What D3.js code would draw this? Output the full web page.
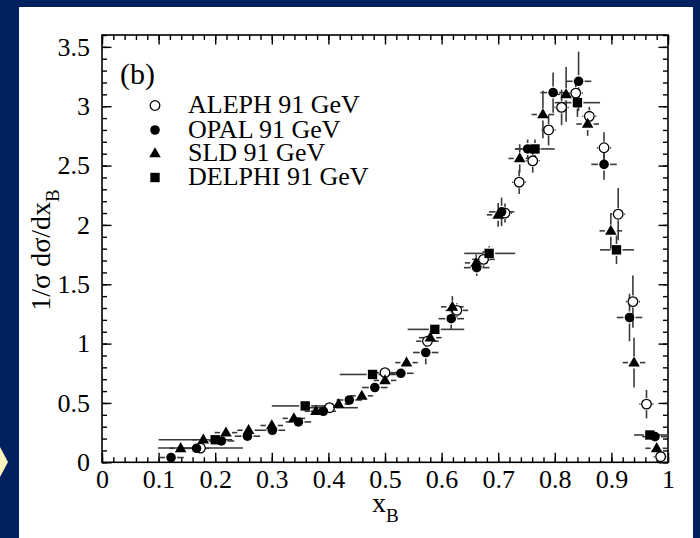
<!DOCTYPE html>
<html>
<head>
<meta charset="utf-8">
<title>x_B distribution</title>
<script src="https://d3js.org/d3.v7.min.js"></script>
<style>
  body { margin: 0; background: #002060; }
  svg { display: block; }
  text { font-family: "Liberation Serif", "Times New Roman", serif; fill: #000; }
</style>
</head>
<body>
<div id="chart"></div>
<script>
// ---- values ----
var xTicks = [0, 0.1, 0.2, 0.3, 0.4, 0.5, 0.6, 0.7, 0.8, 0.9, 1];
var xTickLabels = ["0", "0.1", "0.2", "0.3", "0.4", "0.5", "0.6", "0.7", "0.8", "0.9", "1"];
var yTicks = [0, 0.5, 1, 1.5, 2, 2.5, 3, 3.5];
var yTickLabels = ["0", "0.5", "1", "1.5", "2", "2.5", "3", "3.5"];

var seriesNames = ["ALEPH 91 GeV", "OPAL 91 GeV", "SLD 91 GeV", "DELPHI 91 GeV"];

// ALEPH (open circles)
var alephX  = [0.174, 0.402, 0.500, 0.575, 0.627, 0.674, 0.712, 0.737, 0.761, 0.789, 0.812, 0.837, 0.861, 0.887, 0.912, 0.938, 0.962, 0.987];
var alephY  = [0.12, 0.46, 0.755, 1.02, 1.28, 1.71, 2.10, 2.36, 2.54, 2.80, 2.99, 3.11, 2.915, 2.65, 2.09, 1.354, 0.49, 0.047];
var alephXe = [0.075, 0.05, 0.025, 0.02, 0.02, 0.02, 0.0125, 0.0125, 0.0125, 0.0125, 0.0125, 0.0125, 0.0125, 0.0125, 0.0125, 0.0125, 0.0125, 0.0125];
var alephYe = [0.03, 0.03, 0.04, 0.05, 0.06, 0.07, 0.08, 0.1, 0.1, 0.13, 0.15, 0.12, 0.08, 0.13, 0.22, 0.22, 0.12, 0.03];

// OPAL (filled circles)
var opalX  = [0.122, 0.167, 0.211, 0.257, 0.301, 0.347, 0.391, 0.437, 0.482, 0.528, 0.572, 0.617, 0.662, 0.706, 0.752, 0.797, 0.842, 0.887, 0.932, 0.977];
var opalY  = [0.04, 0.118, 0.18, 0.22, 0.27, 0.34, 0.43, 0.525, 0.63, 0.75, 0.925, 1.21, 1.64, 2.11, 2.64, 3.115, 3.21, 2.51, 1.22, 0.216];
var opalYe = [0.02, 0.02, 0.02, 0.02, 0.03, 0.03, 0.03, 0.03, 0.04, 0.05, 0.1, 0.09, 0.07, 0.12, 0.08, 0.17, 0.25, 0.13, 0.2, 0.05];
var opalXe = 0.0225;

// SLD (filled triangles)
var sldX  = [0.139, 0.179, 0.219, 0.259, 0.300, 0.339, 0.378, 0.418, 0.459, 0.500, 0.538, 0.580, 0.619, 0.661, 0.700, 0.738, 0.779, 0.820, 0.858, 0.899, 0.940, 0.980];
var sldY  = [0.118, 0.19, 0.25, 0.27, 0.31, 0.37, 0.43, 0.49, 0.56, 0.69, 0.84, 1.05, 1.31, 1.68, 2.085, 2.56, 2.93, 3.10, 2.85, 1.95, 0.84, 0.118];
var sldYe = [0.02, 0.02, 0.03, 0.03, 0.03, 0.03, 0.03, 0.03, 0.04, 0.04, 0.05, 0.06, 0.09, 0.07, 0.1, 0.12, 0.2, 0.23, 0.1, 0.15, 0.21, 0.05];
var sldXe = 0.02;

// DELPHI (filled squares), wide bins
var delphiX   = [0.200, 0.359, 0.478, 0.588, 0.684, 0.765, 0.840, 0.909, 0.968];
var delphiY   = [0.19, 0.475, 0.74, 1.12, 1.76, 2.64, 3.03, 1.79, 0.23];
var delphiXlo = [0.10, 0.30, 0.42, 0.54, 0.64, 0.73, 0.80, 0.88, 0.94];
var delphiXhi = [0.23, 0.40, 0.52, 0.64, 0.73, 0.80, 0.88, 0.94, 1.00];
var delphiYe  = [0.02, 0.03, 0.04, 0.05, 0.06, 0.08, 0.12, 0.12, 0.04];

// ---- page ----
var W = 700, H = 538;
var svg = d3.select("#chart").append("svg").attr("width", W).attr("height", H);

// slide background and white panel
svg.append("rect").attr("width", W).attr("height", H).attr("fill", "#002060");
svg.append("rect").attr("x", 19).attr("y", 7).attr("width", 674).attr("height", H - 7).attr("fill", "#fff");
svg.append("polygon").attr("points", "0,447 8,462 0,477").attr("fill", "#fdf3bd");

var x = d3.scaleLinear().domain([0, 1]).range([102, 668]);
var y = d3.scaleLinear().domain([0, 3.6]).range([462.3, 35]);

var fontTick = "26px";

// major ticks with labels (bottom, left), major ticks on top/right, minor ticks everywhere
function styleAxis(g) {
    g.select(".domain").remove();
    g.selectAll("line").attr("stroke", "#000").attr("stroke-width", 1.4);
    g.selectAll("text").style("font-size", fontTick).attr("fill", "#000");
}

svg.append("g").attr("transform", "translate(0," + y(0) + ")")
    .call(d3.axisBottom(x).tickValues(xTicks).tickFormat(function (d, i) { return xTickLabels[i]; })
        .tickSizeInner(-9.5).tickSizeOuter(0).tickPadding(7.5))
    .call(styleAxis);
svg.append("g").attr("transform", "translate(0," + y(0) + ")")
    .call(d3.axisBottom(x).tickValues(x.ticks(50)).tickFormat("").tickSizeInner(-5).tickSizeOuter(0))
    .call(styleAxis);
svg.append("g").attr("transform", "translate(0," + y(3.6) + ")")
    .call(d3.axisTop(x).tickValues(xTicks).tickFormat("").tickSizeInner(-9.5).tickSizeOuter(0))
    .call(styleAxis);
svg.append("g").attr("transform", "translate(0," + y(3.6) + ")")
    .call(d3.axisTop(x).tickValues(x.ticks(50)).tickFormat("").tickSizeInner(-5).tickSizeOuter(0))
    .call(styleAxis);

svg.append("g").attr("transform", "translate(" + x(0) + ",0)")
    .call(d3.axisLeft(y).tickValues(yTicks).tickFormat(function (d, i) { return yTickLabels[i]; })
        .tickSizeInner(-9.5).tickSizeOuter(0).tickPadding(12))
    .call(styleAxis);
svg.append("g").attr("transform", "translate(" + x(0) + ",0)")
    .call(d3.axisLeft(y).tickValues(y.ticks(36)).tickFormat("").tickSizeInner(-5).tickSizeOuter(0))
    .call(styleAxis);
svg.append("g").attr("transform", "translate(" + x(1) + ",0)")
    .call(d3.axisRight(y).tickValues(yTicks).tickFormat("").tickSizeInner(-9.5).tickSizeOuter(0))
    .call(styleAxis);
svg.append("g").attr("transform", "translate(" + x(1) + ",0)")
    .call(d3.axisRight(y).tickValues(y.ticks(36)).tickFormat("").tickSizeInner(-5).tickSizeOuter(0))
    .call(styleAxis);

// frame
svg.append("rect").attr("x", x(0)).attr("y", y(3.6)).attr("width", x(1) - x(0)).attr("height", y(0) - y(3.6))
    .attr("fill", "none").attr("stroke", "#000").attr("stroke-width", 1.6);

// axis titles
var xl = svg.append("text").attr("x", 372).attr("y", 512).style("font-size", "28px");
xl.append("tspan").text("x");
xl.append("tspan").attr("dy", 10).style("font-size", "19px").text("B");

var yl = svg.append("text").attr("transform", "translate(50,250) rotate(-90)")
    .attr("text-anchor", "middle").style("font-size", "28px");
yl.append("tspan").text("1/\u03c3 d\u03c3/dx");
yl.append("tspan").attr("dy", 9).style("font-size", "19px").text("B");

// ---- error bars (gap around marker, as in the original) ----
var plot = svg.append("g");
var gap = 6;
function errorBars(xs, ys, xlo, xhi, ye) {
    xs.forEach(function (xv, i) {
        var cx = x(xv), cy = y(ys[i]);
        var l = x(xlo[i]), r = x(xhi[i]);
        var t = y(ys[i] + ye[i]), b = y(ys[i] - ye[i]);
        var segs = [];
        if (cx - gap > l) segs.push([l, cy, cx - gap, cy]);
        if (r > cx + gap) segs.push([cx + gap, cy, r, cy]);
        if (cy - gap > t) segs.push([cx, t, cx, cy - gap]);
        if (b > cy + gap) segs.push([cx, cy + gap, cx, b]);
        segs.forEach(function (s) {
            plot.append("line").attr("x1", s[0]).attr("y1", s[1]).attr("x2", s[2]).attr("y2", s[3])
                .attr("stroke", "#3a3a3a").attr("stroke-width", 1.6);
        });
    });
}

errorBars(alephX, alephY, alephX.map(function (v, i) { return v - alephXe[i]; }),
    alephX.map(function (v, i) { return v + alephXe[i]; }), alephYe);
errorBars(sldX, sldY, sldX.map(function (v) { return v - sldXe; }), sldX.map(function (v) { return v + sldXe; }), sldYe);
errorBars(opalX, opalY, opalX.map(function (v) { return v - opalXe; }), opalX.map(function (v) { return v + opalXe; }), opalYe);
errorBars(delphiX, delphiY, delphiXlo, delphiXhi, delphiYe);

// ---- markers ----
var rC = 4.8;
var triPath = d3.symbol().type(d3.symbolTriangle).size(58)();
var sqPath = d3.symbol().type(d3.symbolSquare).size(88)();

function openCircle(g, cx, cy) {
    g.append("circle").attr("cx", cx).attr("cy", cy).attr("r", rC)
        .attr("fill", "#fff").attr("stroke", "#000").attr("stroke-width", 1.3);
}
function fullCircle(g, cx, cy) {
    g.append("circle").attr("cx", cx).attr("cy", cy).attr("r", rC).attr("fill", "#000");
}
function triangle(g, cx, cy) {
    g.append("path").attr("d", triPath).attr("transform", "translate(" + cx + "," + (cy + 0.5) + ")").attr("fill", "#000");
}
function square(g, cx, cy) {
    g.append("path").attr("d", sqPath).attr("transform", "translate(" + cx + "," + cy + ")").attr("fill", "#000");
}

alephX.forEach(function (v, i) { openCircle(plot, x(v), y(alephY[i])); });
sldX.forEach(function (v, i) { triangle(plot, x(v), y(sldY[i])); });
opalX.forEach(function (v, i) { fullCircle(plot, x(v), y(opalY[i])); });
delphiX.forEach(function (v, i) { square(plot, x(v), y(delphiY[i])); });

// ---- legend ----
svg.append("text").attr("x", 120).attr("y", 84).style("font-size", "30px").text("(b)");
var legendMarkers = [openCircle, fullCircle, triangle, square];
var legY = [113, 137.5, 161, 185];
seriesNames.forEach(function (name, i) {
    legendMarkers[i](svg, 155, legY[i] - 7.5);
    svg.append("text").attr("x", 188).attr("y", legY[i]).style("font-size", "26px").text(name);
});
</script>
</body>
</html>
